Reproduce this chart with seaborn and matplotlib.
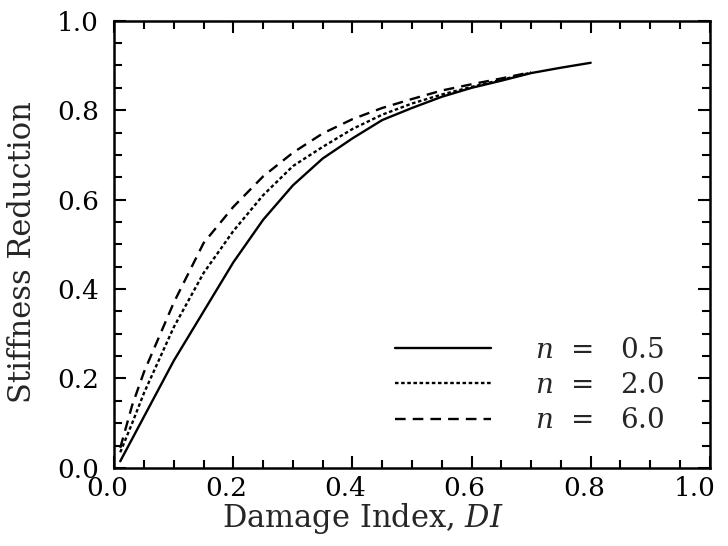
import numpy as np
import pandas as pd
import matplotlib
matplotlib.use("Agg")
import matplotlib.pyplot as plt
import matplotlib.transforms as mtransforms
import seaborn as sns
from matplotlib.ticker import MultipleLocator, FormatStrFormatter

# damage index grid and stiffness reduction for each n
di_a = [0.01, 0.03, 0.05, 0.1, 0.15, 0.2, 0.25, 0.3, 0.35, 0.4, 0.45, 0.5,
        0.55, 0.6, 0.65, 0.7, 0.75, 0.8]
sr_n05 = [0.015, 0.065, 0.115, 0.24, 0.35, 0.46, 0.555, 0.632, 0.692, 0.737,
          0.778, 0.805, 0.83, 0.85, 0.866, 0.883, 0.895, 0.906]

di_b = [0.01, 0.03, 0.05, 0.1, 0.15, 0.2, 0.25, 0.3, 0.35, 0.4, 0.45, 0.5,
        0.55, 0.6, 0.65, 0.7]
sr_n20 = [0.035, 0.1, 0.168, 0.315, 0.436, 0.53, 0.61, 0.675, 0.718, 0.758,
          0.79, 0.815, 0.835, 0.852, 0.868, 0.884]
sr_n60 = [0.045, 0.14, 0.215, 0.37, 0.503, 0.584, 0.652, 0.705, 0.748, 0.78,
          0.805, 0.825, 0.844, 0.858, 0.871, 0.885]

labels = ["$n$  =   0.5", "$n$  =   2.0", "$n$  =   6.0"]

sns.set_style("ticks")
plt.rcParams["font.family"] = ["DejaVu Serif"]
plt.rcParams["mathtext.fontset"] = "dejavuserif"

fig = plt.figure(figsize=(7.28, 5.46), dpi=100)
ax = fig.add_axes([0.157, 0.143, 0.818, 0.819])

sns.lineplot(x=di_a, y=sr_n05, ax=ax, color="black", lw=1.7,
             linestyle="-", label=labels[0])
sns.lineplot(x=di_b, y=sr_n20, ax=ax, color="black", lw=1.7,
             linestyle=(0, (1.5, 1.1)), label=labels[1])
sns.lineplot(x=di_b, y=sr_n60, ax=ax, color="black", lw=1.7,
             linestyle=(0, (4.5, 3)), label=labels[2])

ax.set_xlim(0, 1)
ax.set_ylim(0, 1)
ax.xaxis.set_major_locator(MultipleLocator(0.2))
ax.xaxis.set_minor_locator(MultipleLocator(0.05))
ax.yaxis.set_major_locator(MultipleLocator(0.2))
ax.yaxis.set_minor_locator(MultipleLocator(0.05))
ax.xaxis.set_major_formatter(FormatStrFormatter("%.1f"))
ax.yaxis.set_major_formatter(FormatStrFormatter("%.1f"))
ax.tick_params(which="both", direction="in", top=True, right=True,
               labelsize=19, width=1.5, colors="black")
ax.tick_params(which="major", length=8.5)
ax.tick_params(which="minor", length=5.5)
ax.tick_params(axis="x", pad=6)
ax.tick_params(axis="y", pad=11)
for s in ax.spines.values():
    s.set_linewidth(1.8)
    s.set_color("black")

# x tick labels sit a little left of their ticks in the original
fig.canvas.draw()
for lab in ax.get_xticklabels():
    dx = -15 if lab.get_text() == "1.0" else -7
    lab.set_transform(lab.get_transform() +
                      mtransforms.ScaledTranslation(dx / 100, 0, fig.dpi_scale_trans))

ax.set_xlabel("Damage Index, $DI$", fontsize=22)
ax.set_ylabel("Stiffness Reduction", fontsize=22)
ax.xaxis.set_label_coords(0.418, -0.075)
ax.yaxis.set_label_coords(-0.128, 0.483)

ax.legend(loc="lower right", bbox_to_anchor=(0.943, 0.05), borderaxespad=0,
          frameon=False, fontsize=20, handlelength=3.45, handletextpad=1.6,
          labelspacing=0.3)

fig.savefig("out.png", dpi=100)
